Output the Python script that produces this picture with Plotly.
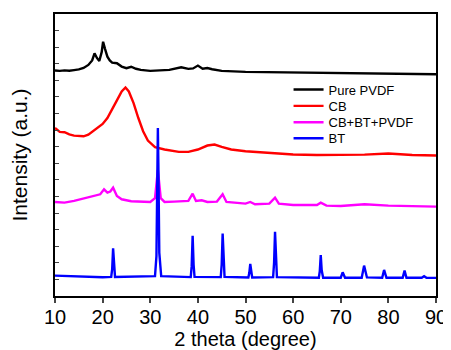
import plotly.graph_objects as go

# ---- data (2 theta, intensity offset in arbitrary units) ----
pvdf_x = [10, 11, 12, 13, 14, 15, 16, 17, 17.8, 18.3, 18.8, 19.3, 19.8, 20.1, 20.5, 21, 21.5, 22, 23, 24, 25, 26, 27, 28, 30, 32, 34, 36.5, 38, 39, 40, 41, 42, 43, 45, 50, 55, 60, 65, 70, 75, 80, 85, 90]
pvdf_y = [13.59, 13.57, 13.6, 13.58, 13.62, 13.66, 13.75, 13.93, 14.2, 14.63, 14.35, 14.17, 14.7, 15.33, 14.9, 14.43, 14.2, 14.07, 14.03, 13.83, 13.73, 13.82, 13.7, 13.63, 13.57, 13.62, 13.63, 13.79, 13.69, 13.72, 13.89, 13.7, 13.74, 13.67, 13.57, 13.51, 13.49, 13.47, 13.46, 13.43, 13.44, 13.43, 13.4, 13.37]

cb_x = [10, 11, 12, 13, 14, 15, 16, 17, 18, 19, 20, 21, 22, 23, 24, 24.8, 25.5, 26.5, 27.5, 28.5, 29.5, 31, 33, 36, 38, 40, 42, 43.5, 45, 47, 50, 55, 60, 65, 70, 75, 80, 85, 90]
cb_y = [10.13, 9.89, 9.87, 9.74, 9.67, 9.64, 9.63, 9.73, 9.93, 10.13, 10.37, 10.73, 11.23, 11.79, 12.33, 12.57, 12.33, 11.63, 10.73, 9.93, 9.37, 8.97, 8.83, 8.69, 8.69, 8.83, 9.07, 9.13, 8.99, 8.83, 8.73, 8.63, 8.53, 8.5, 8.49, 8.52, 8.59, 8.5, 8.47]

mix_x = [10, 12, 14, 16, 18, 19.5, 20.3, 21, 21.6, 22.2, 23, 24, 26, 28, 30, 31.0, 31.6, 32.2, 33, 35, 38, 38.9, 39.6, 40.8, 42, 44, 45.2, 46, 48, 50, 51, 52, 55, 56.2, 57, 60, 65, 65.8, 67, 70, 75, 80, 85, 90]
mix_y = [5.67, 5.63, 5.73, 5.87, 5.99, 6.13, 6.43, 6.23, 6.3, 6.53, 6.03, 5.83, 5.71, 5.67, 5.67, 5.9, 7.6, 5.9, 5.67, 5.69, 5.73, 6.17, 5.73, 5.77, 5.67, 5.69, 6.13, 5.67, 5.6, 5.57, 5.67, 5.53, 5.57, 5.93, 5.57, 5.49, 5.49, 5.63, 5.45, 5.43, 5.53, 5.45, 5.42, 5.39]

bt_x = [10, 15, 20, 21.8, 22.0, 22.2, 22.4, 22.6, 31.0, 31.3, 31.5, 31.6, 31.7, 31.9, 32.3, 38.5, 38.7, 38.9, 39.1, 39.3, 44.8, 45.0, 45.2, 45.4, 45.6, 50.6, 50.8, 51.0, 51.2, 51.4, 55.8, 56.0, 56.2, 56.4, 56.6, 65.4, 65.6, 65.8, 66.0, 66.3, 70.0, 70.4, 70.9, 74.4, 74.9, 75.5, 78.7, 79.1, 79.6, 83.0, 83.4, 83.8, 87.0, 87.5, 88.0, 90]
bt_y = [1.23, 1.17, 1.13, 1.15, 1.6, 2.87, 1.6, 1.15, 1.2, 2.4, 7.5, 10.13, 8.0, 2.6, 1.2, 1.14, 1.8, 3.63, 1.9, 1.15, 1.14, 1.9, 3.77, 2.0, 1.15, 1.12, 1.4, 1.93, 1.4, 1.12, 1.14, 2.0, 3.87, 2.1, 1.14, 1.1, 1.5, 2.47, 1.55, 1.1, 1.1, 1.43, 1.1, 1.1, 1.83, 1.12, 1.1, 1.57, 1.1, 1.1, 1.53, 1.1, 1.1, 1.19, 1.1, 1.09]

names = ["Pure PVDF", "CB", "CB+BT+PVDF", "BT"]
colors = ["#000000", "#ff0000", "#ff00ff", "#0000ff"]
series = [(pvdf_x, pvdf_y), (cb_x, cb_y), (mix_x, mix_y), (bt_x, bt_y)]
legend_ids = ["legend", "legend2", "legend3", "legend4"]
legend_y = [0.732, 0.674, 0.616, 0.559]

x_ticks = [10, 20, 30, 40, 50, 60, 70, 80, 90]

fig = go.Figure()
for (xs, ys), n, c, lg in zip(series, names, colors, legend_ids):
    fig.add_trace(go.Scatter(x=xs, y=ys, mode="lines", name=n, legend=lg,
                             line=dict(color=c, width=2.4)))

legend_common = dict(xanchor="left", yanchor="middle", bgcolor="rgba(0,0,0,0)",
                     font=dict(size=13), itemwidth=30, borderwidth=0)
layout_legends = {}
for lg, ly in zip(legend_ids, legend_y):
    layout_legends[lg] = dict(x=0.613, y=ly, **legend_common)

# page body has an 8px margin, so the figure is sized to fill the rest of the window
fig.update_layout(
    width=443, height=342,
    margin=dict(l=47, r=14, t=4, b=54),
    paper_bgcolor="white", plot_bgcolor="white",
    font=dict(family="Arial, Liberation Sans, sans-serif", color="black"),
    showlegend=True,
    **layout_legends,
)
fig.update_xaxes(range=[10, 90], tickvals=x_ticks, ticks="outside", ticklen=5,
                 tickwidth=1.5, showline=True, linewidth=1.5, linecolor="black",
                 mirror=True, showgrid=False, zeroline=False,
                 tickfont=dict(size=20), ticklabelstandoff=-3,
                 title=dict(text="2 theta (degree)", font=dict(size=20), standoff=0))
fig.update_yaxes(range=[0, 17], dtick=1, tick0=0, ticks="inside", ticklen=4,
                 tickwidth=1, showticklabels=False, showline=True, linewidth=1.5,
                 linecolor="black", mirror=True, showgrid=False, zeroline=False,
                 title=dict(text="Intensity (a.u.)", font=dict(size=21), standoff=20))

fig.write_html("out.html")
